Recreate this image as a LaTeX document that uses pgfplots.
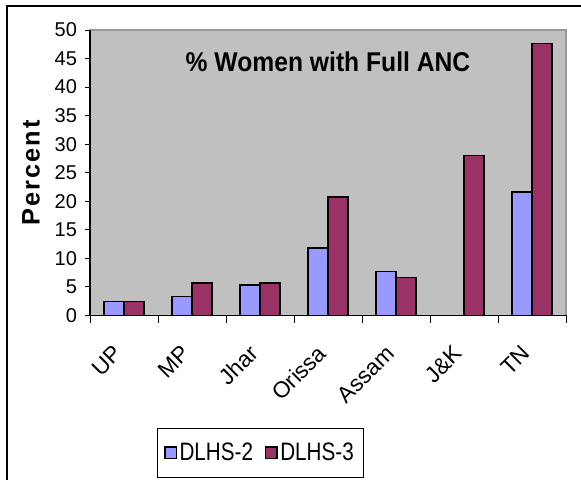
\documentclass[border=0pt]{standalone}
\usepackage{pgfplots}
\pgfplotsset{compat=1.18}
\usepackage{fontspec}
\setmainfont{Liberation Sans}
\newfontfamily\spaced[LetterSpace=8]{Liberation Sans}
\definecolor{lav}{HTML}{9999FF}
\definecolor{mar}{HTML}{993366}
\definecolor{bgg}{HTML}{C0C0C0}
\begin{document}
\begin{tikzpicture}
\useasboundingbox (-67.5pt,-122.8pt) rectangle (368.25pt,236.5pt);
\begin{axis}[
  scale only axis,
  width=357pt, height=214pt,
  xmin=-0.5, xmax=6.5, ymin=0, ymax=50,
  ytick distance=5,
  xtick={0,...,6},
  xticklabels={UP,MP,Jhar,Orissa,Assam,J\&K,TN},
  minor xtick={-0.5,0.5,...,6.5},
  major x tick style={draw=none},
  tick align=outside,
  major tick length=3.75pt,
  minor tick length=5.5pt,
  tick style={black, line width=0.6pt},
  axis x line*=bottom, axis y line*=left,
  axis line style={black, line width=0.9pt},
  axis background/.style={fill=bgg, draw=gray!80, line width=0.8pt},
  /pgf/number format/assume math mode=true,
  yticklabel style={font=\fontsize{15}{15}\selectfont, xshift=-2.5pt},
  xticklabel style={font=\fontsize{17}{17}\selectfont, yshift=-19.5pt, xshift=-2pt, rotate=45, anchor=east},
  ylabel={\spaced\bfseries Percent},
  ylabel style={font=\fontsize{19}{19}\selectfont, at={(axis description cs:-0.124,0.5)}, anchor=center},
  ybar=0pt, bar width=15pt,
  legend columns=2,
  legend style={at={(axis description cs:0.358,-0.481)}, anchor=center, draw=black, line width=0.8pt, fill=white,
    font=\fontsize{15.5}{15.5}\selectfont, inner xsep=5pt, inner ysep=9pt,
    /tikz/every even column/.append style={column sep=7pt}},
  legend image code/.code={\draw[#1, line width=0.9pt] (0pt,-4.2pt) rectangle (8.5pt,4.2pt);},
]
\addplot[fill=lav, draw=black, line width=1.1pt] coordinates {(0,2.4) (1,3.3) (2,5.3) (3,11.8) (4,7.7) (6,21.6)};
\addplot[fill=mar, draw=black, line width=1.1pt] coordinates {(0,2.4) (1,5.7) (2,5.7) (3,20.7) (4,6.6) (5,28.0) (6,47.6)};
\legend{\scalebox{1}[1.22]{DLHS-2},\scalebox{1}[1.22]{DLHS-3}}
\node at (rel axis cs:0.5,0.888) {\scalebox{1}[1.1]{\bfseries\fontsize{18.5}{18.5}\selectfont \% Women with Full ANC}};
\end{axis}
\draw[line width=1.1pt] (-62.25pt,-130pt) -- (-62.25pt,232pt) -- (380pt,232pt);
\end{tikzpicture}
\end{document}
